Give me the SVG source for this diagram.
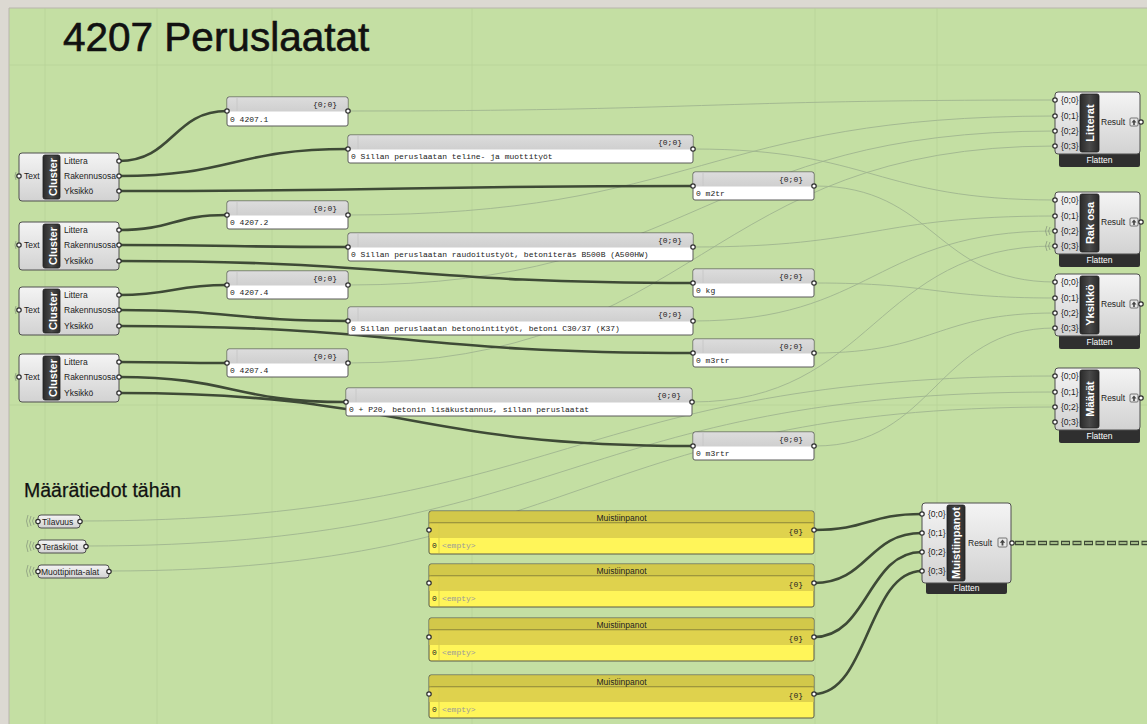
<svg xmlns="http://www.w3.org/2000/svg" width="1147" height="724" viewBox="0 0 1147 724">
<defs>
<linearGradient id="gBody" x1="0" y1="0" x2="0" y2="1">
<stop offset="0" stop-color="#f4f4f4"/><stop offset="1" stop-color="#d2d2d2"/>
</linearGradient>
<linearGradient id="gBar" x1="0" y1="0" x2="1" y2="0">
<stop offset="0" stop-color="#2a2a2a"/><stop offset="0.5" stop-color="#4a4a4a"/><stop offset="1" stop-color="#2a2a2a"/>
</linearGradient>
<linearGradient id="gHead" x1="0" y1="0" x2="0" y2="1">
<stop offset="0" stop-color="#dcdcdc"/><stop offset="1" stop-color="#cfcfcf"/>
</linearGradient>
</defs>
<style>
.comp{fill:url(#gBody);stroke:#4e4e4e;stroke-width:1}
.bar{fill:url(#gBar);stroke:#1e1e1e;stroke-width:0.8}
.bartxt{font-family:"Liberation Sans",Arial,sans-serif;font-size:11px;font-weight:bold;fill:#ffffff}
.lbl{font-family:"Liberation Sans",Arial,sans-serif;font-size:8.5px;fill:#222}
.grip{fill:#ffffff;stroke:#2c2c2c;stroke-width:1.2}
.pnl{fill:#ffffff;stroke:#5a5a5a;stroke-width:1}
.phead{fill:url(#gHead)}
.mono{font-family:"Liberation Mono","Courier New",monospace;font-size:8px;fill:#222}
.monog{font-family:"Liberation Mono","Courier New",monospace;font-size:8px;fill:#9a9a9a}
.ybody{fill:#fff559;stroke:#5a5a4a;stroke-width:1}
.ytitle{fill:#d2c84a}
.ysub{fill:#dfd24d}
.flat{fill:#2f2f2f}
.flattxt{font-family:"Liberation Sans",Arial,sans-serif;font-size:8.5px;fill:#ffffff}
.thick{fill:none;stroke:#3e4a36;stroke-width:2.6}
.thin{fill:none;stroke:#9db38e;stroke-width:1;opacity:0.85}
.grid{stroke:#b8d398;stroke-width:1;opacity:0.7}
.param{fill:url(#gBody);stroke:#4e4e4e;stroke-width:1}
.hid{fill:none;stroke:#8a9a80;stroke-width:0.8}
.icon{fill:#e8e8e8;stroke:#555;stroke-width:0.8}
</style>

<!-- background -->
<rect x="0" y="0" width="1147" height="724" fill="#dcd9d2"/>
<rect x="9" y="8" width="1138" height="716" fill="#c4dfa3"/>
<line x1="9" y1="8" x2="1147" y2="8" stroke="#b9b5ad" stroke-width="1"/>
<line x1="9" y1="8" x2="9" y2="724" stroke="#b9b5ad" stroke-width="1"/>
<g id="grid">
<line class="grid" x1="45" y1="8" x2="45" y2="724"/>
<line class="grid" x1="157" y1="8" x2="157" y2="724"/>
<line class="grid" x1="272" y1="8" x2="272" y2="724"/>
<line class="grid" x1="472" y1="8" x2="472" y2="724"/>
<line class="grid" x1="815" y1="8" x2="815" y2="724"/>
<line class="grid" x1="937" y1="8" x2="937" y2="724"/>
<line class="grid" x1="9" y1="65" x2="1147" y2="65"/>
<line class="grid" x1="9" y1="405" x2="1147" y2="405"/>
</g>

<text x="63" y="51" font-family="'Liberation Sans',Arial,sans-serif" font-size="40.5" fill="#111" stroke="#111" stroke-width="0.6">4207 Peruslaatat</text>
<text x="24" y="497" font-family="'Liberation Sans',Arial,sans-serif" font-size="19.5" fill="#111" stroke="#111" stroke-width="0.25">Määrätiedot tähän</text>

<!-- connectors -->
<g id="connectors">
<path class="thin" d="M348,111 C701,111 702,100 1055,100"/>
<path class="thin" d="M348,215 C701,215 702,116 1055,116"/>
<path class="thin" d="M348,285 C701,285 702,131 1055,131"/>
<path class="thin" d="M348,363 C701,363 702,146 1055,146"/>
<path class="thin" d="M693,149 C874,149 874,200 1055,200"/>
<path class="thin" d="M693,247 C874,247 874,216 1055,216"/>
<path class="thin" d="M693,321 C874,321 874,231 1055,231"/>
<path class="thin" d="M692,402 C874,402 874,246 1055,246"/>
<path class="thin" d="M815,186 C935,186 935,282 1055,282"/>
<path class="thin" d="M815,283 C935,283 935,298 1055,298"/>
<path class="thin" d="M815,353 C935,353 935,313 1055,313"/>
<path class="thin" d="M815,446 C935,446 935,328 1055,328"/>
<path class="thin" d="M80,521 C567,521 568,376 1055,376"/>
<path class="thin" d="M86,546 C570,546 571,392 1055,392"/>
<path class="thin" d="M109,571 C582,571 582,407 1055,407"/>

<path class="thick" d="M119,161 C173,161 173,111 227,111"/>
<path class="thick" d="M119,176 C234,176 233,149 348,149"/>
<path class="thick" d="M119,191 C406,191 406,186 693,186"/>
<path class="thick" d="M119,230 C173,230 173,215 227,215"/>
<path class="thick" d="M119,245 C234,245 233,247 348,247"/>
<path class="thick" d="M119,261 C406,261 406,283 693,283"/>
<path class="thick" d="M119,295 C173,295 173,285 227,285"/>
<path class="thick" d="M119,310 C234,310 233,321 348,321"/>
<path class="thick" d="M119,326 C406,326 406,353 693,353"/>
<path class="thick" d="M119,362 C173,362 173,363 227,363"/>
<path class="thick" d="M119,377 C233,377 232,402 346,402"/>
<path class="thick" d="M119,393 C406,393 406,446 693,446"/>

<path class="thick" d="M814,530 C868,530 868,514 922,514"/>
<path class="thick" d="M814,583 C868,583 868,533 922,533"/>
<path class="thick" d="M814,637 C868,637 868,552 922,552"/>
<path class="thick" d="M814,694 C868,694 868,571 922,571"/>

<line x1="1015" y1="543" x2="1147" y2="543" stroke="#3e4a36" stroke-width="4.5" stroke-dasharray="9 2.5" stroke-linecap="butt"/>
<line x1="1015" y1="543" x2="1147" y2="543" stroke="#c4dfa3" stroke-width="1.6" stroke-dasharray="7 4.5" stroke-dashoffset="-1"/>
</g>

<!-- cluster nodes -->
<g id="cluster1">
<path class="hid" d="M16,172 q-2,4 0,8"/>
<rect class="comp" x="19" y="153" width="100" height="48" rx="3"/>
<rect class="bar" x="43" y="155" width="17" height="44" rx="2"/>
<text class="bartxt" transform="translate(52.5,177) rotate(-90)" text-anchor="middle" dominant-baseline="central">Cluster</text>
<text class="lbl" x="24" y="179">Text</text>
<text class="lbl" x="64" y="164">Littera</text>
<text class="lbl" x="64" y="179">Rakennusosa</text>
<text class="lbl" x="64" y="194">Yksikkö</text>
<circle class="grip" cx="19" cy="176" r="2.2"/>
<circle class="grip" cx="119" cy="161" r="2.2"/>
<circle class="grip" cx="119" cy="176" r="2.2"/>
<circle class="grip" cx="119" cy="191" r="2.2"/>
</g>
<g id="cluster2">
<path class="hid" d="M16,241 q-2,4 0,8"/>
<rect class="comp" x="19" y="222" width="100" height="48" rx="3"/>
<rect class="bar" x="43" y="224" width="17" height="44" rx="2"/>
<text class="bartxt" transform="translate(52.5,246) rotate(-90)" text-anchor="middle" dominant-baseline="central">Cluster</text>
<text class="lbl" x="24" y="248">Text</text>
<text class="lbl" x="64" y="233">Littera</text>
<text class="lbl" x="64" y="248">Rakennusosa</text>
<text class="lbl" x="64" y="264">Yksikkö</text>
<circle class="grip" cx="19" cy="245" r="2.2"/>
<circle class="grip" cx="119" cy="230" r="2.2"/>
<circle class="grip" cx="119" cy="245" r="2.2"/>
<circle class="grip" cx="119" cy="261" r="2.2"/>
</g>
<g id="cluster3">
<path class="hid" d="M16,306 q-2,4 0,8"/>
<rect class="comp" x="19" y="287" width="100" height="48" rx="3"/>
<rect class="bar" x="43" y="289" width="17" height="44" rx="2"/>
<text class="bartxt" transform="translate(52.5,311) rotate(-90)" text-anchor="middle" dominant-baseline="central">Cluster</text>
<text class="lbl" x="24" y="313">Text</text>
<text class="lbl" x="64" y="298">Littera</text>
<text class="lbl" x="64" y="313">Rakennusosa</text>
<text class="lbl" x="64" y="329">Yksikkö</text>
<circle class="grip" cx="19" cy="310" r="2.2"/>
<circle class="grip" cx="119" cy="295" r="2.2"/>
<circle class="grip" cx="119" cy="310" r="2.2"/>
<circle class="grip" cx="119" cy="326" r="2.2"/>
</g>
<g id="cluster4">
<path class="hid" d="M16,373 q-2,4 0,8"/>
<rect class="comp" x="19" y="354" width="100" height="48" rx="3"/>
<rect class="bar" x="43" y="356" width="17" height="44" rx="2"/>
<text class="bartxt" transform="translate(52.5,378) rotate(-90)" text-anchor="middle" dominant-baseline="central">Cluster</text>
<text class="lbl" x="24" y="380">Text</text>
<text class="lbl" x="64" y="365">Littera</text>
<text class="lbl" x="64" y="380">Rakennusosa</text>
<text class="lbl" x="64" y="396">Yksikkö</text>
<circle class="grip" cx="19" cy="377" r="2.2"/>
<circle class="grip" cx="119" cy="362" r="2.2"/>
<circle class="grip" cx="119" cy="377" r="2.2"/>
<circle class="grip" cx="119" cy="393" r="2.2"/>
</g>

<!-- text panels -->
<g id="panel1">
<rect class="pnl" x="227" y="97" width="121" height="29" rx="2"/>
<rect class="phead" x="227.5" y="97.5" width="120" height="14" rx="2"/>
<line x1="237" y1="98" x2="237" y2="111" stroke="#c8c8c8"/>
<text class="mono" x="337" y="107" text-anchor="end">{0;0}</text>
<text class="mono" x="230" y="122">0 4207.1</text>
<circle class="grip" cx="227" cy="111" r="2.2"/><circle class="grip" cx="348" cy="111" r="2.2"/>
</g>
<g id="panel2">
<rect class="pnl" x="348" y="135" width="345" height="28" rx="2"/>
<rect class="phead" x="348.5" y="135.5" width="344" height="14" rx="2"/>
<line x1="358" y1="136" x2="358" y2="149" stroke="#c8c8c8"/>
<text class="mono" x="682" y="145" text-anchor="end">{0;0}</text>
<text class="mono" x="351" y="159">0 Sillan peruslaatan teline- ja muottityöt</text>
<circle class="grip" cx="348" cy="149" r="2.2"/><circle class="grip" cx="693" cy="149" r="2.2"/>
</g>
<g id="panel3">
<rect class="pnl" x="693" y="172" width="121" height="28" rx="2"/>
<rect class="phead" x="693.5" y="172.5" width="120" height="14" rx="2"/>
<line x1="703" y1="173" x2="703" y2="186" stroke="#c8c8c8"/>
<text class="mono" x="803" y="182" text-anchor="end">{0;0}</text>
<text class="mono" x="696" y="196">0 m2tr</text>
<circle class="grip" cx="693" cy="186" r="2.2"/><circle class="grip" cx="814" cy="186" r="2.2"/>
</g>
<g id="panel4">
<rect class="pnl" x="227" y="201" width="121" height="28" rx="2"/>
<rect class="phead" x="227.5" y="201.5" width="120" height="14" rx="2"/>
<line x1="237" y1="202" x2="237" y2="215" stroke="#c8c8c8"/>
<text class="mono" x="337" y="211" text-anchor="end">{0;0}</text>
<text class="mono" x="230" y="225">0 4207.2</text>
<circle class="grip" cx="227" cy="215" r="2.2"/><circle class="grip" cx="348" cy="215" r="2.2"/>
</g>
<g id="panel5">
<rect class="pnl" x="348" y="233" width="345" height="28" rx="2"/>
<rect class="phead" x="348.5" y="233.5" width="344" height="14" rx="2"/>
<line x1="358" y1="234" x2="358" y2="247" stroke="#c8c8c8"/>
<text class="mono" x="682" y="243" text-anchor="end">{0;0}</text>
<text class="mono" x="351" y="257">0 Sillan peruslaatan raudoitustyöt, betoniteräs B500B (A500HW)</text>
<circle class="grip" cx="348" cy="247" r="2.2"/><circle class="grip" cx="693" cy="247" r="2.2"/>
</g>
<g id="panel6">
<rect class="pnl" x="693" y="269" width="121" height="28" rx="2"/>
<rect class="phead" x="693.5" y="269.5" width="120" height="14" rx="2"/>
<line x1="703" y1="270" x2="703" y2="283" stroke="#c8c8c8"/>
<text class="mono" x="803" y="279" text-anchor="end">{0;0}</text>
<text class="mono" x="696" y="293">0 kg</text>
<circle class="grip" cx="693" cy="283" r="2.2"/><circle class="grip" cx="814" cy="283" r="2.2"/>
</g>
<g id="panel7">
<rect class="pnl" x="227" y="271" width="121" height="28" rx="2"/>
<rect class="phead" x="227.5" y="271.5" width="120" height="14" rx="2"/>
<line x1="237" y1="272" x2="237" y2="285" stroke="#c8c8c8"/>
<text class="mono" x="337" y="281" text-anchor="end">{0;0}</text>
<text class="mono" x="230" y="295">0 4207.4</text>
<circle class="grip" cx="227" cy="285" r="2.2"/><circle class="grip" cx="348" cy="285" r="2.2"/>
</g>
<g id="panel8">
<rect class="pnl" x="348" y="307" width="345" height="28" rx="2"/>
<rect class="phead" x="348.5" y="307.5" width="344" height="14" rx="2"/>
<line x1="358" y1="308" x2="358" y2="321" stroke="#c8c8c8"/>
<text class="mono" x="682" y="317" text-anchor="end">{0;0}</text>
<text class="mono" x="351" y="331">0 Sillan peruslaatan betonointityöt, betoni C30/37 (K37)</text>
<circle class="grip" cx="348" cy="321" r="2.2"/><circle class="grip" cx="693" cy="321" r="2.2"/>
</g>
<g id="panel9">
<rect class="pnl" x="693" y="339" width="121" height="28" rx="2"/>
<rect class="phead" x="693.5" y="339.5" width="120" height="14" rx="2"/>
<line x1="703" y1="340" x2="703" y2="353" stroke="#c8c8c8"/>
<text class="mono" x="803" y="349" text-anchor="end">{0;0}</text>
<text class="mono" x="696" y="363">0 m3rtr</text>
<circle class="grip" cx="693" cy="353" r="2.2"/><circle class="grip" cx="814" cy="353" r="2.2"/>
</g>
<g id="panel10">
<rect class="pnl" x="227" y="349" width="121" height="28" rx="2"/>
<rect class="phead" x="227.5" y="349.5" width="120" height="14" rx="2"/>
<line x1="237" y1="350" x2="237" y2="363" stroke="#c8c8c8"/>
<text class="mono" x="337" y="359" text-anchor="end">{0;0}</text>
<text class="mono" x="230" y="373">0 4207.4</text>
<circle class="grip" cx="227" cy="363" r="2.2"/><circle class="grip" cx="348" cy="363" r="2.2"/>
</g>
<g id="panel11">
<rect class="pnl" x="346" y="388" width="346" height="28" rx="2"/>
<rect class="phead" x="346.5" y="388.5" width="345" height="14" rx="2"/>
<line x1="356" y1="389" x2="356" y2="402" stroke="#c8c8c8"/>
<text class="mono" x="681" y="398" text-anchor="end">{0;0}</text>
<text class="mono" x="349" y="412">0 + P20, betonin lisäkustannus, sillan peruslaatat</text>
<circle class="grip" cx="346" cy="402" r="2.2"/><circle class="grip" cx="692" cy="402" r="2.2"/>
</g>
<g id="panel12">
<rect class="pnl" x="693" y="432" width="121" height="28" rx="2"/>
<rect class="phead" x="693.5" y="432.5" width="120" height="14" rx="2"/>
<line x1="703" y1="433" x2="703" y2="446" stroke="#c8c8c8"/>
<text class="mono" x="803" y="442" text-anchor="end">{0;0}</text>
<text class="mono" x="696" y="456">0 m3rtr</text>
<circle class="grip" cx="693" cy="446" r="2.2"/><circle class="grip" cx="814" cy="446" r="2.2"/>
</g>

<!-- merge components -->
<g id="merge-litterat">
<rect class="flat" x="1059" y="150" width="81" height="17" rx="2"/>
<text class="flattxt" x="1099.5" y="163" text-anchor="middle">Flatten</text>
<rect class="comp" x="1055" y="92" width="85" height="62" rx="3"/>
<rect class="bar" x="1080" y="94" width="19" height="58" rx="2"/>
<text class="bartxt" transform="translate(1089.5,123) rotate(-90)" text-anchor="middle" dominant-baseline="central">Litterat</text>
<text class="lbl" x="1061" y="103">{0;0}</text><text class="lbl" x="1061" y="119">{0;1}</text><text class="lbl" x="1061" y="134">{0;2}</text><text class="lbl" x="1061" y="149">{0;3}</text>
<text class="lbl" x="1101" y="125">Result</text>
<rect class="icon" x="1130" y="118" width="8" height="8" rx="1"/><path d="M1134,119.5 l-2.5,3 h1.7 v2.5 h1.6 v-2.5 h1.7 z" fill="#444"/>
<circle class="grip" cx="1055" cy="100" r="2.2"/><circle class="grip" cx="1055" cy="116" r="2.2"/><circle class="grip" cx="1055" cy="131" r="2.2"/><circle class="grip" cx="1055" cy="146" r="2.2"/>
<circle class="grip" cx="1141" cy="122" r="2.2"/>
</g>
<g id="merge-rakosa">
<rect class="flat" x="1059" y="250" width="81" height="17" rx="2"/>
<text class="flattxt" x="1099.5" y="263" text-anchor="middle">Flatten</text>
<rect class="comp" x="1055" y="192" width="85" height="62" rx="3"/>
<rect class="bar" x="1080" y="194" width="19" height="58" rx="2"/>
<text class="bartxt" transform="translate(1089.5,223) rotate(-90)" text-anchor="middle" dominant-baseline="central">Rak osa</text>
<text class="lbl" x="1061" y="203">{0;0}</text><text class="lbl" x="1061" y="219">{0;1}</text><text class="lbl" x="1061" y="234">{0;2}</text><text class="lbl" x="1061" y="249">{0;3}</text>
<text class="lbl" x="1101" y="225">Result</text>
<rect class="icon" x="1130" y="218" width="8" height="8" rx="1"/><path d="M1134,219.5 l-2.5,3 h1.7 v2.5 h1.6 v-2.5 h1.7 z" fill="#444"/>
<path class="hid" d="M1050,227 q-3,4 0,8 M1047,226 q-3,5 0,10 M1050,242 q-3,4 0,8 M1047,241 q-3,5 0,10"/>
<circle class="grip" cx="1055" cy="200" r="2.2"/><circle class="grip" cx="1055" cy="216" r="2.2"/><circle class="grip" cx="1055" cy="231" r="2.2"/><circle class="grip" cx="1055" cy="246" r="2.2"/>
<circle class="grip" cx="1141" cy="222" r="2.2"/>
</g>
<g id="merge-yksikko">
<rect class="flat" x="1059" y="332" width="81" height="17" rx="2"/>
<text class="flattxt" x="1099.5" y="345" text-anchor="middle">Flatten</text>
<rect class="comp" x="1055" y="274" width="85" height="62" rx="3"/>
<rect class="bar" x="1080" y="276" width="19" height="58" rx="2"/>
<text class="bartxt" transform="translate(1089.5,305) rotate(-90)" text-anchor="middle" dominant-baseline="central">Yksikkö</text>
<text class="lbl" x="1061" y="285">{0;0}</text><text class="lbl" x="1061" y="301">{0;1}</text><text class="lbl" x="1061" y="316">{0;2}</text><text class="lbl" x="1061" y="331">{0;3}</text>
<text class="lbl" x="1101" y="307">Result</text>
<rect class="icon" x="1130" y="300" width="8" height="8" rx="1"/><path d="M1134,301.5 l-2.5,3 h1.7 v2.5 h1.6 v-2.5 h1.7 z" fill="#444"/>
<circle class="grip" cx="1055" cy="282" r="2.2"/><circle class="grip" cx="1055" cy="298" r="2.2"/><circle class="grip" cx="1055" cy="313" r="2.2"/><circle class="grip" cx="1055" cy="328" r="2.2"/>
<circle class="grip" cx="1141" cy="304" r="2.2"/>
</g>
<g id="merge-maarat">
<rect class="flat" x="1059" y="426" width="81" height="17" rx="2"/>
<text class="flattxt" x="1099.5" y="439" text-anchor="middle">Flatten</text>
<rect class="comp" x="1055" y="368" width="85" height="62" rx="3"/>
<rect class="bar" x="1080" y="370" width="19" height="58" rx="2"/>
<text class="bartxt" transform="translate(1089.5,399) rotate(-90)" text-anchor="middle" dominant-baseline="central">Määrät</text>
<text class="lbl" x="1061" y="379">{0;0}</text><text class="lbl" x="1061" y="395">{0;1}</text><text class="lbl" x="1061" y="410">{0;2}</text><text class="lbl" x="1061" y="425">{0;3}</text>
<text class="lbl" x="1101" y="401">Result</text>
<rect class="icon" x="1130" y="394" width="8" height="8" rx="1"/><path d="M1134,395.5 l-2.5,3 h1.7 v2.5 h1.6 v-2.5 h1.7 z" fill="#444"/>
<circle class="grip" cx="1055" cy="376" r="2.2"/><circle class="grip" cx="1055" cy="392" r="2.2"/><circle class="grip" cx="1055" cy="407" r="2.2"/><circle class="grip" cx="1055" cy="422" r="2.2"/>
<circle class="grip" cx="1141" cy="398" r="2.2"/>
</g>

<!-- params -->
<g id="param-tilavuus">
<path class="hid" d="M34,517 q-3,4 0,8 M31,516 q-3,5 0,10 M28,515 q-3,6 0,12"/>
<rect class="param" x="38" y="515" width="42" height="13" rx="3"/>
<text class="lbl" x="42" y="524.5">Tilavuus</text>
<circle class="grip" cx="38" cy="521.5" r="2.2"/><circle class="grip" cx="80" cy="521.5" r="2.2"/>
</g>
<g id="param-teraskilot">
<path class="hid" d="M34,542 q-3,4 0,8 M31,541 q-3,5 0,10 M28,540 q-3,6 0,12"/>
<rect class="param" x="38" y="540" width="48" height="13" rx="3"/>
<text class="lbl" x="42" y="549.5">Teräskilot</text>
<circle class="grip" cx="38" cy="546.5" r="2.2"/><circle class="grip" cx="86" cy="546.5" r="2.2"/>
</g>
<g id="param-muottipinta">
<path class="hid" d="M34,567 q-3,4 0,8 M31,566 q-3,5 0,10 M28,565 q-3,6 0,12"/>
<rect class="param" x="38" y="565" width="71" height="13" rx="3"/>
<text class="lbl" x="41" y="574.5">Muottipinta-alat</text>
<circle class="grip" cx="38" cy="571.5" r="2.2"/><circle class="grip" cx="109" cy="571.5" r="2.2"/>
</g>

<!-- yellow note panels -->
<g id="note1">
<rect class="ybody" x="429" y="511" width="385" height="43" rx="2"/>
<rect class="ytitle" x="429.5" y="511.5" width="384" height="11.5" rx="2"/>
<line x1="429.5" y1="523" x2="813.5" y2="523" stroke="#6a6430"/>
<rect class="ysub" x="429.5" y="523.5" width="384" height="14.5"/>
<line x1="439" y1="524" x2="439" y2="553" stroke="#d8cf50"/>
<text class="lbl" x="621.5" y="520.5" text-anchor="middle">Muistiinpanot</text>
<text class="mono" x="803" y="534" text-anchor="end">{0}</text>
<text class="mono" x="432" y="548">0</text><text class="monog" x="442" y="548">&lt;empty&gt;</text>
<circle class="grip" cx="429" cy="530" r="2.2"/><circle class="grip" cx="814" cy="530" r="2.2"/>
</g>
<g id="note2">
<rect class="ybody" x="429" y="564" width="385" height="43" rx="2"/>
<rect class="ytitle" x="429.5" y="564.5" width="384" height="11.5" rx="2"/>
<line x1="429.5" y1="576" x2="813.5" y2="576" stroke="#6a6430"/>
<rect class="ysub" x="429.5" y="576.5" width="384" height="14.5"/>
<line x1="439" y1="577" x2="439" y2="606" stroke="#d8cf50"/>
<text class="lbl" x="621.5" y="573.5" text-anchor="middle">Muistiinpanot</text>
<text class="mono" x="803" y="587" text-anchor="end">{0}</text>
<text class="mono" x="432" y="601">0</text><text class="monog" x="442" y="601">&lt;empty&gt;</text>
<circle class="grip" cx="429" cy="583" r="2.2"/><circle class="grip" cx="814" cy="583" r="2.2"/>
</g>
<g id="note3">
<rect class="ybody" x="429" y="618" width="385" height="43" rx="2"/>
<rect class="ytitle" x="429.5" y="618.5" width="384" height="11.5" rx="2"/>
<line x1="429.5" y1="630" x2="813.5" y2="630" stroke="#6a6430"/>
<rect class="ysub" x="429.5" y="630.5" width="384" height="14.5"/>
<line x1="439" y1="631" x2="439" y2="660" stroke="#d8cf50"/>
<text class="lbl" x="621.5" y="627.5" text-anchor="middle">Muistiinpanot</text>
<text class="mono" x="803" y="641" text-anchor="end">{0}</text>
<text class="mono" x="432" y="655">0</text><text class="monog" x="442" y="655">&lt;empty&gt;</text>
<circle class="grip" cx="429" cy="637" r="2.2"/><circle class="grip" cx="814" cy="637" r="2.2"/>
</g>
<g id="note4">
<rect class="ybody" x="429" y="675" width="385" height="43" rx="2"/>
<rect class="ytitle" x="429.5" y="675.5" width="384" height="11.5" rx="2"/>
<line x1="429.5" y1="687" x2="813.5" y2="687" stroke="#6a6430"/>
<rect class="ysub" x="429.5" y="687.5" width="384" height="14.5"/>
<line x1="439" y1="688" x2="439" y2="717" stroke="#d8cf50"/>
<text class="lbl" x="621.5" y="684.5" text-anchor="middle">Muistiinpanot</text>
<text class="mono" x="803" y="698" text-anchor="end">{0}</text>
<text class="mono" x="432" y="712">0</text><text class="monog" x="442" y="712">&lt;empty&gt;</text>
<circle class="grip" cx="429" cy="694" r="2.2"/><circle class="grip" cx="814" cy="694" r="2.2"/>
</g>

<g id="merge-muistiinpanot">
<rect class="flat" x="926" y="579" width="81" height="15" rx="2"/>
<text class="flattxt" x="966.5" y="591" text-anchor="middle">Flatten</text>
<rect class="comp" x="922" y="503" width="89" height="80" rx="3"/>
<rect class="bar" x="947" y="505" width="18" height="76" rx="2"/>
<text class="bartxt" transform="translate(956,543) rotate(-90)" text-anchor="middle" dominant-baseline="central" textLength="72" lengthAdjust="spacingAndGlyphs">Muistiinpanot</text>
<text class="lbl" x="928" y="517">{0;0}</text><text class="lbl" x="928" y="536">{0;1}</text><text class="lbl" x="928" y="555">{0;2}</text><text class="lbl" x="928" y="574">{0;3}</text>
<text class="lbl" x="968" y="546">Result</text>
<rect class="icon" x="998" y="538" width="9" height="9" rx="1"/><path d="M1002.5,539.5 l-2.7,3.3 h1.8 v2.7 h1.8 v-2.7 h1.8 z" fill="#444"/>
<circle class="grip" cx="922" cy="514" r="2.2"/><circle class="grip" cx="922" cy="533" r="2.2"/><circle class="grip" cx="922" cy="552" r="2.2"/><circle class="grip" cx="922" cy="571" r="2.2"/>
<circle class="grip" cx="1012" cy="543" r="2.2"/>
</g>
</svg>
